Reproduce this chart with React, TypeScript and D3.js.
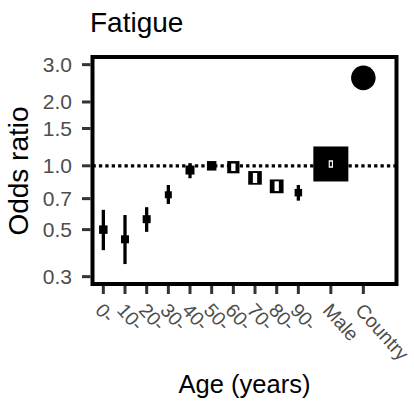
import * as d3 from "d3";

const W = 414;
const H = 406;

// data
const AGE_GROUPS = ["0-", "10-", "20-", "30-", "40-", "50-", "60-", "70-", "80-", "90-"];
const CATEGORIES = [...AGE_GROUPS, "Male", "Country"];
const CAT_POS = [0, 1, 2, 3, 4, 5, 6, 7, 8, 9, 10.5, 12];
const ODDS = [0.5, 0.45, 0.56, 0.73, 0.955, 1.0, 0.985, 0.877, 0.8, 0.747, 1.02, 2.6];
const CI_LOW = [0.4, 0.344, 0.488, 0.661, 0.874, 1.0, 0.95, 0.83, 0.76, 0.685, 0.995, 2.6];
const CI_HIGH = [0.62, 0.586, 0.638, 0.812, 1.03, 1.0, 1.02, 0.925, 0.845, 0.812, 1.045, 2.6];
const WEIGHT = [72, 64, 64, 49, 81, 90, 150, 185, 190, 56, 1225, 605];
const Y_TICKS = [0.3, 0.5, 0.7, 1.0, 1.5, 2.0, 3.0];

const PANEL = { left: 92.5, right: 396.5, top: 57, bottom: 284 };
const FONT = "'Liberation Sans', Arial, Helvetica, sans-serif";

export default function App() {
  const x = d3.scaleLinear().domain([-0.5, 13.53]).range([PANEL.left, PANEL.right]);
  const y = d3.scaleLog().domain([0.277, 3.26]).range([PANEL.bottom, PANEL.top]);
  const side = d3.scaleSqrt().domain([0, 1225]).range([0, 35]);

  return (
    <svg
      width={W}
      height={H}
      style={{ position: "absolute", left: 0, top: 0, background: "#fff" }}
      fontFamily={FONT}
    >
      {/* title */}
      <text x={90} y={32} fontSize={28} fill="#000">
        Fatigue
      </text>

      {/* reference line at OR = 1 */}
      <line
        x1={PANEL.left}
        x2={PANEL.right}
        y1={y(1)}
        y2={y(1)}
        stroke="#000"
        strokeWidth={3.3}
        strokeDasharray="3.3 3.1"
      />

      {/* estimates */}
      {CATEGORIES.map((c, i) => {
        const cx = x(CAT_POS[i]);
        const cy = y(ODDS[i]);
        const s = side(WEIGHT[i]);
        const yLo = y(CI_LOW[i]);
        const yHi = y(CI_HIGH[i]);
        const span = yLo - yHi;
        const isCountry = c === "Country";
        const stripeH = Math.min(Math.max(span, 7.5), s - 3);
        const mid = (yLo + yHi) / 2;
        return (
          <g key={c}>
            {span > 0 && (
              <line x1={cx} x2={cx} y1={yLo} y2={yHi} stroke="#000" strokeWidth={3.3} />
            )}
            {isCountry ? (
              <circle cx={cx} cy={cy} r={s / 2} fill="#000" />
            ) : (
              <rect x={cx - s / 2} y={cy - s / 2} width={s} height={s} fill="#000" />
            )}
            {!isCountry && s >= 11 && (
              <rect x={cx - 2.15} y={mid - stripeH / 2} width={4.3} height={stripeH} fill="#fff" />
            )}
            {!isCountry && s > 20 && (
              <rect x={cx - 1} y={yHi} width={2} height={span} fill="#000" />
            )}
          </g>
        );
      })}

      {/* y axis */}
      {Y_TICKS.map((t) => (
        <g key={t}>
          <line x1={82} x2={PANEL.left - 2} y1={y(t)} y2={y(t)} stroke="#333" strokeWidth={3} />
          <text
            x={72}
            y={y(t)}
            fontSize={21}
            fill="#4d4d4d"
            textAnchor="end"
            dominantBaseline="central"
          >
            {t.toFixed(1)}
          </text>
        </g>
      ))}

      {/* x axis */}
      {CATEGORIES.map((c, i) => {
        const tx = x(CAT_POS[i]);
        return (
          <g key={c}>
            <line x1={tx} x2={tx} y1={PANEL.bottom + 2} y2={294} stroke="#333" strokeWidth={3} />
            <text
              transform={`translate(${tx - 9},${311}) rotate(48)`}
              fontSize={19.5}
              fill="#4d4d4d"
            >
              {c}
            </text>
          </g>
        );
      })}

      {/* panel border */}
      <rect
        x={PANEL.left}
        y={PANEL.top}
        width={PANEL.right - PANEL.left}
        height={PANEL.bottom - PANEL.top}
        fill="none"
        stroke="#000"
        strokeWidth={4}
      />

      {/* axis titles */}
      <text x={(PANEL.left + PANEL.right) / 2} y={393} fontSize={25.5} textAnchor="middle" fill="#000">
        Age (years)
      </text>
      <text
        transform={`translate(28,171) rotate(-90)`}
        fontSize={28}
        textAnchor="middle"
        fill="#000"
      >
        Odds ratio
      </text>
    </svg>
  );
}
